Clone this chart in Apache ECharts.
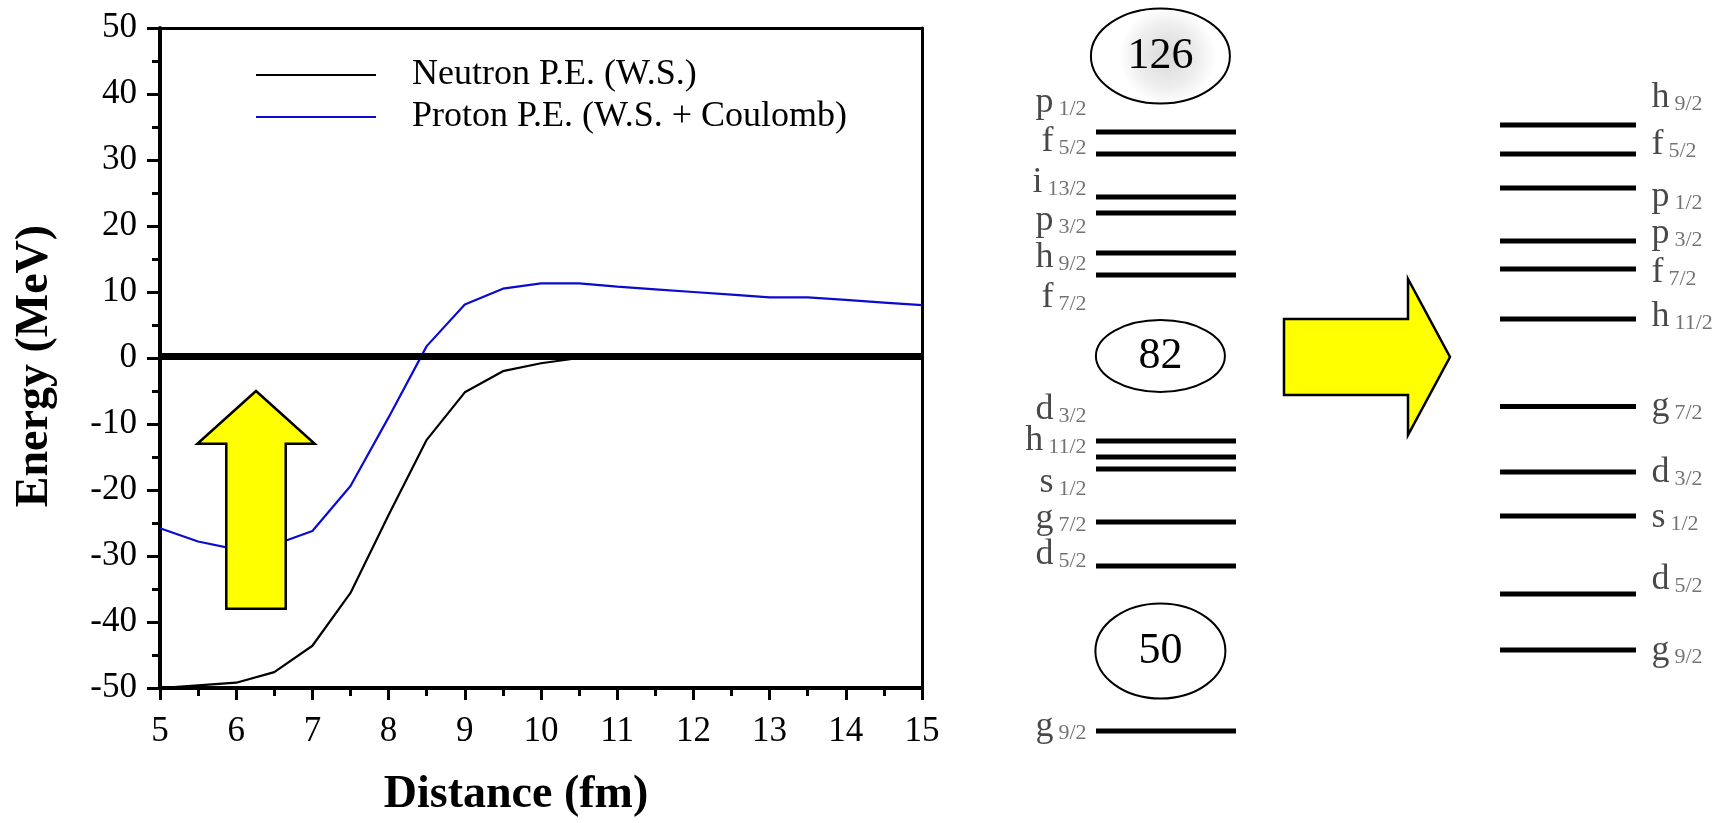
<!DOCTYPE html>
<html>
<head>
<meta charset="utf-8">
<script src="https://cdn.jsdelivr.net/npm/echarts/dist/echarts.min.js"></script>
<style>html,body{margin:0;padding:0;background:#fff}#c{width:1719px;height:823px}</style>
</head>
<body>
<div id="c"></div>
<script>
// ---- data ----
const distance = [5, 5.5, 6, 6.5, 7, 7.5, 8, 8.5, 9, 9.5, 10, 10.5, 11, 11.5, 12, 12.5, 13, 13.5, 14, 14.5, 15];
const neutronPE = [-50, -49.6, -49.2, -47.6, -43.6, -35.6, -23.8, -12.4, -5.2, -2.0, -0.8, 0, 0, 0, 0, 0, 0, 0, 0, 0, 0];
const protonPE  = [-25.8, -27.8, -29.0, -28.3, -26.2, -19.4, -9.0, 1.8, 8.1, 10.5, 11.3, 11.3, 10.8, 10.4, 10.0, 9.6, 9.2, 9.2, 8.8, 8.4, 8.0];
const seriesNames = ['Neutron P.E. (W.S.)', 'Proton P.E. (W.S. + Coulomb)'];
const zeroLine = 0.25;

// schematic level scheme (arbitrary energy units)
const midLevels = [69.1, 66.9, 62.6, 61.0, 57.0, 54.8, 38.2, 36.6, 35.4, 30.1, 25.7, 9.2];
const midLabels = [['p','1/2'],['f','5/2'],['i','13/2'],['p','3/2'],['h','9/2'],['f','7/2'],
                   ['d','3/2'],['h','11/2'],['s','1/2'],['g','7/2'],['d','5/2'],['g','9/2']];
const midLabelLevels = [72.0, 68.1, 64.0, 60.2, 56.5, 52.5, 41.3, 38.2, 34.0, 30.4, 26.8, 9.6];

const rightLevels = [69.8, 66.9, 63.5, 58.2, 55.4, 50.4, 41.65, 35.1, 30.7, 22.9, 17.3];
const rightLabels = [['h','9/2'],['f','5/2'],['p','1/2'],['p','3/2'],['f','7/2'],['h','11/2'],
                     ['g','7/2'],['d','3/2'],['s','1/2'],['d','5/2'],['g','9/2']];
const rightLabelLevels = [72.5, 67.8, 62.6, 58.9, 55.0, 50.6, 41.6, 35.0, 30.5, 24.3, 17.2];

const magicNumbers = ['126', '82', '50'];
const magicLevels = [76.7, 46.7, 17.2];

// ---- annotation geometry / sizes ----
const upArrow = {cx: 6.26, shaftHalf: 0.39, headHalf: 0.77, base: -38, neck: -13, tip: -5};
const rightArrow = {cy: 46.6, shaftHalf: 3.8, headHalf: 7.8, base: 9.4, neck: 15.6, tip: 17.7};
const MID_X = [0, 7], RIGHT_X = [20.2, 27], MAGIC_X = 3.22;
const ELLIPSE_SIZES = [[139, 95], [129, 72], [130, 95]];
const F = "'Liberation Serif','Times New Roman',serif";

const chart = echarts.init(document.getElementById('c'), null, {renderer: 'canvas'});

function levelRender(xr) {
  return function (params, api) {
    const y = api.value(0);
    const a = api.coord([xr[0], y]), b = api.coord([xr[1], y]);
    return {type: 'line', shape: {x1: a[0], y1: a[1], x2: b[0], y2: b[1]},
            style: {stroke: '#000', lineWidth: 5}};
  };
}
const rich = {
  m: {fontSize: 36, fontFamily: F, color: '#1a1a1a', lineHeight: 34},
  s: {fontSize: 22, fontFamily: F, color: '#505050', lineHeight: 6, verticalAlign: 'bottom', padding: [0, 0, 0, 5]}
};
function labelSeries(levels, texts, xv, pos, dist) {
  return {
    type: 'scatter', xAxisIndex: 2, yAxisIndex: 2, symbolSize: 1, silent: true,
    itemStyle: {color: 'rgba(0,0,0,0)'},
    data: levels.map((v, i) => ({value: [xv, v], t: texts[i]})),
    label: {show: true, position: pos, distance: dist, rich: rich,
      formatter: p => '{m|' + p.data.t[0] + '}{s|' + p.data.t[1] + '}'}
  };
}

const option = {
  animation: false,
  backgroundColor: '#fff',
  grid: [
    {left: 160, top: 28, width: 762, height: 663},
    {left: 1096, top: 0, width: 540, height: 823}
  ],
  legend: {
    data: seriesNames, orient: 'vertical', left: 256, top: 54, padding: 0,
    icon: 'rect', itemWidth: 120, itemHeight: 2, itemGap: 0,
    textStyle: {fontSize: 36, fontFamily: F, color: '#000', lineHeight: 36, padding: [6, 0, 0, 31]}
  },
  xAxis: [
    {gridIndex: 0, type: 'value', min: 5, max: 15, interval: 1,
     axisLine: {onZero: false, lineStyle: {color: '#000', width: 4}},
     axisTick: {length: 12, lineStyle: {color: '#000', width: 3}},
     minorTick: {show: true, splitNumber: 2, length: 8, lineStyle: {color: '#000', width: 3}},
     axisLabel: {fontSize: 35, fontFamily: F, color: '#000', margin: 26},
     splitLine: {show: false},
     name: 'Distance (fm)', nameLocation: 'middle', nameGap: 84,
     nameTextStyle: {fontSize: 46, fontWeight: 'bold', fontFamily: F, color: '#000', padding: [0, 50, 0, 0]}},
    {gridIndex: 0, type: 'value', position: 'top', min: 5, max: 15,
     axisLine: {onZero: false, lineStyle: {color: '#000', width: 3}},
     axisTick: {show: false}, axisLabel: {show: false}, splitLine: {show: false}},
    {gridIndex: 1, type: 'value', min: 0, max: 27, show: false}
  ],
  yAxis: [
    {gridIndex: 0, type: 'value', min: -50, max: 50, interval: 10,
     axisLine: {show: true, onZero: false, lineStyle: {color: '#000', width: 4}},
     axisTick: {show: true, length: 13, lineStyle: {color: '#000', width: 3}},
     minorTick: {show: true, splitNumber: 2, length: 8, lineStyle: {color: '#000', width: 3}},
     axisLabel: {fontSize: 35, fontFamily: F, color: '#000', margin: 23},
     splitLine: {show: false},
     name: 'Energy (MeV)', nameLocation: 'middle', nameRotate: 90, nameGap: 102,
     nameTextStyle: {fontSize: 46, fontWeight: 'bold', fontFamily: F, color: '#000', padding: [0, 16, 0, 0]}},
    {gridIndex: 0, type: 'value', position: 'right', min: -50, max: 50,
     axisLine: {show: true, onZero: false, lineStyle: {color: '#000', width: 3}},
     axisTick: {show: false}, axisLabel: {show: false}, splitLine: {show: false}},
    {gridIndex: 1, type: 'value', min: 0, max: 82.3, show: false}
  ],
  series: [
    {name: seriesNames[0], type: 'line', xAxisIndex: 0, yAxisIndex: 0, symbol: 'none',
     lineStyle: {color: '#000', width: 2.2}, itemStyle: {color: '#000'},
     data: distance.map((x, i) => [x, neutronPE[i]]),
     markLine: {silent: true, symbol: 'none', label: {show: false},
       lineStyle: {color: '#000', width: 7, type: 'solid'}, data: [{yAxis: zeroLine}]}},
    {name: seriesNames[1], type: 'line', xAxisIndex: 0, yAxisIndex: 0, symbol: 'none',
     lineStyle: {color: '#0b0bd0', width: 2.2}, itemStyle: {color: '#0b0bd0'},
     data: distance.map((x, i) => [x, protonPE[i]])},
    {type: 'custom', xAxisIndex: 0, yAxisIndex: 0, z: 5, silent: true, data: [[upArrow.cx, upArrow.tip]],
     renderItem: function (params, api) {
       const a = upArrow;
       const pts = [[a.cx - a.shaftHalf, a.base], [a.cx - a.shaftHalf, a.neck], [a.cx - a.headHalf, a.neck],
                    [a.cx, a.tip], [a.cx + a.headHalf, a.neck], [a.cx + a.shaftHalf, a.neck], [a.cx + a.shaftHalf, a.base]]
                    .map(p => api.coord(p));
       return {type: 'polygon', shape: {points: pts}, style: {fill: '#ffff00', stroke: '#000', lineWidth: 2.5}};
     }},
    {type: 'custom', xAxisIndex: 2, yAxisIndex: 2, silent: true, data: [[rightArrow.tip, rightArrow.cy]],
     renderItem: function (params, api) {
       const a = rightArrow;
       const pts = [[a.base, a.cy + a.shaftHalf], [a.neck, a.cy + a.shaftHalf], [a.neck, a.cy + a.headHalf],
                    [a.tip, a.cy], [a.neck, a.cy - a.headHalf], [a.neck, a.cy - a.shaftHalf], [a.base, a.cy - a.shaftHalf]]
                    .map(p => api.coord(p));
       return {type: 'polygon', shape: {points: pts}, style: {fill: '#ffff00', stroke: '#000', lineWidth: 2.5}};
     }},
    {type: 'custom', xAxisIndex: 2, yAxisIndex: 2, silent: true, encode: {y: 0},
     data: midLevels.map(v => [v]), renderItem: levelRender(MID_X)},
    {type: 'custom', xAxisIndex: 2, yAxisIndex: 2, silent: true, encode: {y: 0},
     data: rightLevels.map(v => [v]), renderItem: levelRender(RIGHT_X)},
    labelSeries(midLabelLevels, midLabels, MID_X[0], 'left', 9),
    labelSeries(rightLabelLevels, rightLabels, RIGHT_X[1], 'right', 15),
    {type: 'custom', xAxisIndex: 2, yAxisIndex: 2, silent: true, encode: {y: 0},
     data: magicLevels.map(v => [v]),
     renderItem: function (params, api) {
       const i = params.dataIndex;
       const c = api.coord([MAGIC_X, api.value(0)]);
       const s = ELLIPSE_SIZES[i];
       const fill = i === 0 ? new echarts.graphic.RadialGradient(0.55, 0.5, 0.5,
           [{offset: 0, color: '#d8d8d8'}, {offset: 0.65, color: '#eeeeee'}, {offset: 1, color: '#ffffff'}]) : '#fff';
       return {type: 'group', children: [
         {type: 'path', shape: {pathData: 'M0,50A50,50,0,1,0,100,50A50,50,0,1,0,0,50Z', layout: 'cover',
            x: c[0] - s[0] / 2, y: c[1] - s[1] / 2, width: s[0], height: s[1]},
          style: {fill: fill, stroke: '#000', lineWidth: 2}},
         {type: 'text', x: c[0], y: c[1],
          style: {text: magicNumbers[i], fontSize: 44, fontFamily: F, fill: '#000', align: 'center', verticalAlign: 'middle'}}
       ]};
     }}
  ]
};
chart.setOption(option);
</script>
</body>
</html>
